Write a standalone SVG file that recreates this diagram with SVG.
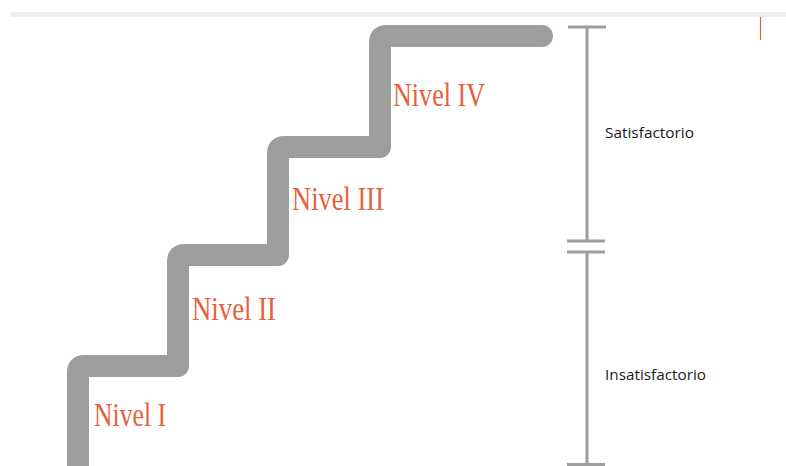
<svg xmlns="http://www.w3.org/2000/svg" width="786" height="466" viewBox="0 0 786 466">
  <style>
    .stair { fill: none; stroke: #9d9d9c; stroke-width: 22; stroke-linejoin: round; stroke-linecap: round; }
    .scale { fill: none; stroke: #9d9d9c; stroke-width: 3; }
    .level { font-family: "Liberation Serif", "DejaVu Serif", serif; font-size: 33px; fill: #e8603c; }
    .zone { font-family: "Open Sans", "Liberation Sans", sans-serif; font-size: 15px; fill: #1a1a1a; }
  </style>
  <rect width="786" height="466" fill="#ffffff"/>
  <!-- header band and accent mark -->
  <rect x="10" y="12" width="776" height="5" fill="#efefef"/>
  <line x1="760.5" y1="17" x2="760.5" y2="40" stroke="#e8603c" stroke-width="1.2"/>

  <g id="connectors">
    <!-- staircase -->
    <path class="stair" d="M78,480 V372 Q78,366 84,366 H178 V261 Q178,255 184,255 H278 V153 Q278,147 284,147 H380 V42 Q380,36 386,36 H542"/>
    <!-- vertical scale -->
    <line class="scale" x1="587" y1="27" x2="587" y2="241"/>
    <line class="scale" x1="568" y1="27" x2="606" y2="27"/>
    <line class="scale" x1="567" y1="241" x2="605" y2="241"/>
    <line class="scale" x1="587" y1="252" x2="587" y2="466"/>
    <line class="scale" x1="567" y1="252" x2="605" y2="252"/>
    <line class="scale" x1="567" y1="464.5" x2="605" y2="464.5"/>
  </g>

  <g id="nivel-1"><text class="level" x="94" y="426" textLength="72" lengthAdjust="spacingAndGlyphs">Nivel I</text></g>
  <g id="nivel-2"><text class="level" x="192" y="320" textLength="84" lengthAdjust="spacingAndGlyphs">Nivel II</text></g>
  <g id="nivel-3"><text class="level" x="292" y="210" textLength="92" lengthAdjust="spacingAndGlyphs">Nivel III</text></g>
  <g id="nivel-4"><text class="level" x="393" y="106" textLength="92" lengthAdjust="spacingAndGlyphs">Nivel IV</text></g>

  <g id="satisfactorio"><text class="zone" x="605" y="138" textLength="89" lengthAdjust="spacingAndGlyphs">Satisfactorio</text></g>
  <g id="insatisfactorio"><text class="zone" x="605" y="380" textLength="101" lengthAdjust="spacingAndGlyphs">Insatisfactorio</text></g>
</svg>
